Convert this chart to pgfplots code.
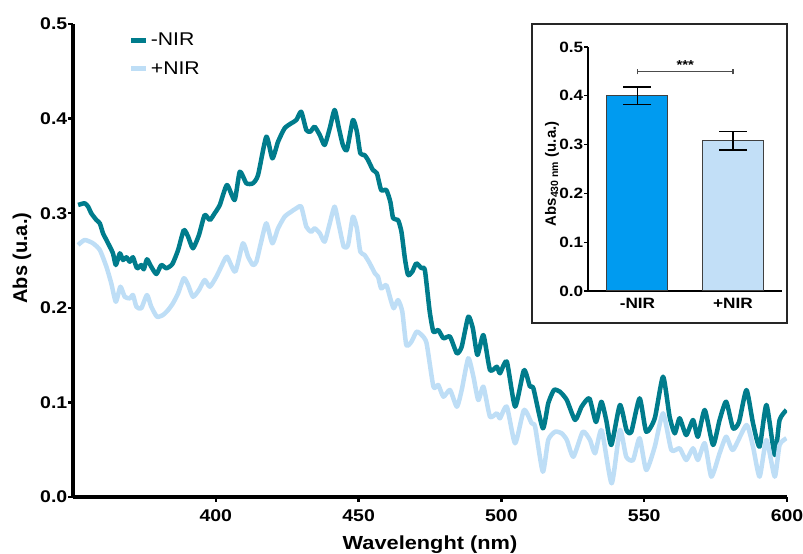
\documentclass[border=0pt]{standalone}
\usepackage{fontspec}
\setmainfont{Liberation Sans}[FakeStretch=1.15]
\newfontfamily\plainsans{Liberation Sans}
\usepackage{pgfplots}
\pgfplotsset{compat=1.18}
\definecolor{darkteal}{RGB}{0,124,140}
\definecolor{lightblue}{RGB}{190,222,246}
\definecolor{barblue}{RGB}{0,155,240}
\definecolor{barlight}{RGB}{194,223,247}
\begin{document}
\begin{tikzpicture}
\useasboundingbox (0,0) rectangle (803bp,554bp);
\begin{axis}[
  at={(73bp,57bp)}, anchor=south west,
  scale only axis, width=714bp, height=473bp,
  xmin=350, xmax=600, ymin=0, ymax=0.5,
  axis lines=left,
  axis line style={-, line width=3bp, black},
  xtick={400,450,500,550,600},
  ytick={0,0.1,0.2,0.3,0.4,0.5},
  tick align=outside,
  major tick length=5bp,
  tick style={line width=2.5bp, black},
  y tick label style={/pgf/number format/fixed, /pgf/number format/fixed zerofill, /pgf/number format/precision=1, inner xsep=0.5bp},
  x tick label style={/pgf/number format/set thousands separator={}, yshift=-4bp},
  ticklabel style={font=\bfseries\fontsize{17}{17}\selectfont},
  /pgf/number format/assume math mode=true,
  xlabel={Wavelenght (nm)},
  ylabel={Abs (u.a.)},
  xlabel style={at={(axis description cs:0.5,-0.112)}, anchor=base, font=\bfseries\fontsize{19}{19}\selectfont},
  ylabel style={at={(axis description cs:-0.0714,0.505)}, anchor=center, font=\plainsans\bfseries\fontsize{20}{20}\selectfont},
  legend style={at={(axis description cs:0.078,0.985)}, anchor=north west, draw=none, fill=none, font=\fontsize{18.5}{18.5}\selectfont, row sep=10bp, inner sep=0pt},
  legend cell align=left,
  legend image code/.code={\draw[#1, line width=5bp] (0bp,0bp) -- (15bp,0bp);},
]
\addplot[darkteal, line width=4.5bp, smooth, tension=0.35, line join=round] coordinates {
(351.8,0.3087) (354.1,0.3105) (355.3,0.3069) (356.4,0.2999) (358.2,0.2928) (359.4,0.2893)
(360.5,0.2788) (361.7,0.2717) (362.9,0.2646) (364.0,0.2576) (365.0,0.2452) (366.4,0.2576)
(367.5,0.2505) (368.7,0.2534) (369.9,0.2487) (371.0,0.2534) (372.4,0.2418) (373.9,0.2452)
(374.8,0.2407) (375.9,0.2513) (377.4,0.2434) (379.2,0.2357) (380.9,0.2452) (382.7,0.2418)
(384.8,0.2463) (386.8,0.2611) (388.8,0.2822) (390.3,0.2752) (392.0,0.2629) (394.1,0.2770)
(396.1,0.2981) (397.9,0.2928) (399.6,0.2999) (401.4,0.3087) (403.9,0.3298) (406.6,0.3140)
(408.4,0.3439) (410.7,0.3316) (413.0,0.3316) (414.8,0.3404) (417.7,0.3809) (419.8,0.3580)
(421.8,0.3756) (424.1,0.3898) (426.4,0.3950) (428.2,0.3985) (429.9,0.4073) (431.7,0.3879)
(433.1,0.3862) (434.6,0.3914) (436.4,0.3827) (438.1,0.3721) (439.9,0.3898) (441.6,0.4091)
(443.1,0.3898) (444.5,0.3721) (445.9,0.3668) (448.0,0.3985) (449.4,0.3862) (450.6,0.3633)
(452.1,0.3615) (453.3,0.3562) (455.0,0.3457) (456.4,0.3422) (457.9,0.3245) (459.7,0.3245)
(461.1,0.3122) (462.1,0.2946) (463.8,0.2928) (465.0,0.2804) (466.2,0.2523) (467.3,0.2347)
(468.8,0.2382) (470.2,0.2470) (472.0,0.2418) (473.2,0.2400) (474.9,0.1959) (476.2,0.1747)
(477.9,0.1765) (479.7,0.1678) (482.0,0.1695) (484.4,0.1519) (486.1,0.1589) (488.4,0.1906)
(490.0,0.1783) (491.6,0.1501) (493.7,0.1712) (496.0,0.1342) (498.4,0.1377) (499.5,0.1308)
(501.9,0.1430) (504.8,0.0955) (507.9,0.1342) (510.0,0.1166) (511.2,0.1149) (514.5,0.0726)
(516.4,0.0990) (518.4,0.1131) (520.5,0.1113) (522.9,0.1025) (525.8,0.0814) (528.1,0.0955)
(530.8,0.1043) (533.1,0.0793) (535.0,0.1007) (536.7,0.0814) (538.5,0.0550) (541.5,0.0973)
(543.8,0.0708) (545.5,0.0690) (548.4,0.1043) (550.7,0.0690) (553.7,0.0832) (556.6,0.1272)
(558.9,0.0849) (560.7,0.0673) (562.4,0.0832) (564.7,0.0655) (567.1,0.0814) (568.8,0.0637)
(571.2,0.0920) (574.1,0.0550) (576.4,0.0814) (578.7,0.1007) (581.1,0.0726) (583.2,0.0793)
(585.8,0.1131) (588.1,0.0779) (590.4,0.0532) (592.8,0.0973) (595.7,0.0444) (597.4,0.0814)
(599.8,0.0920)
};
\addlegendentry{-NIR}
\addplot[lightblue, line width=4.5bp, smooth, tension=0.35, line join=round] coordinates {
(351.8,0.2664) (354.1,0.2717) (357.0,0.2682) (359.4,0.2611) (361.7,0.2434) (363.4,0.2259)
(365.0,0.2064) (366.6,0.2223) (368.1,0.2117) (369.9,0.2100) (371.0,0.2135) (372.2,0.2012)
(373.9,0.1995) (375.9,0.2135) (377.4,0.2012) (379.4,0.1906) (381.5,0.1924) (383.3,0.1977)
(385.0,0.2048) (386.8,0.2153) (388.8,0.2312) (390.3,0.2241) (392.0,0.2117) (394.1,0.2188)
(396.1,0.2294) (397.9,0.2223) (400.2,0.2329) (401.9,0.2434) (403.9,0.2540) (406.8,0.2382)
(409.5,0.2682) (411.3,0.2540) (413.0,0.2452) (414.2,0.2487) (415.9,0.2699) (417.7,0.2893)
(419.8,0.2682) (421.8,0.2840) (424.1,0.2963) (426.4,0.3016) (428.2,0.3052) (429.9,0.3069)
(431.7,0.2857) (433.4,0.2804) (434.6,0.2840) (436.4,0.2788) (438.1,0.2699) (439.9,0.2893)
(441.6,0.3069) (443.1,0.2875) (444.8,0.2646) (446.3,0.2664) (448.0,0.2963) (449.4,0.2840)
(450.6,0.2593) (452.1,0.2558) (453.9,0.2470) (455.7,0.2365) (456.8,0.2329) (457.9,0.2206)
(459.7,0.2241) (461.1,0.2100) (462.3,0.1995) (463.8,0.2082) (465.3,0.1959) (466.7,0.1607)
(468.5,0.1642) (470.3,0.1747) (472.1,0.1712) (473.8,0.1625) (476.2,0.1166) (477.9,0.1184)
(479.7,0.1060) (482.0,0.1131) (484.4,0.0955) (486.1,0.1131) (488.4,0.1466) (490.2,0.1272)
(491.9,0.1025) (493.7,0.1166) (496.0,0.0849) (498.4,0.0885) (499.5,0.0832) (501.9,0.0955)
(504.8,0.0568) (507.9,0.0920) (510.6,0.0779) (511.8,0.0743) (514.5,0.0267) (516.4,0.0603)
(518.8,0.0690) (521.1,0.0673) (522.9,0.0603) (525.2,0.0426) (528.5,0.0690) (531.0,0.0603)
(532.8,0.0462) (535.1,0.0708) (538.6,0.0145) (541.5,0.0708) (543.7,0.0426) (546.1,0.0391)
(548.4,0.0621) (550.7,0.0285) (553.7,0.0532) (556.6,0.0885) (559.5,0.0497) (562.4,0.0515)
(564.7,0.0391) (567.1,0.0515) (568.8,0.0391) (571.2,0.0568) (573.5,0.0215) (576.4,0.0462)
(578.7,0.0637) (581.1,0.0497) (585.8,0.0761) (588.1,0.0532) (590.4,0.0215) (592.8,0.0603)
(595.7,0.0215) (597.4,0.0550) (599.8,0.0621)
};
\addlegendentry{+NIR}
\end{axis}
\fill[white] (532bp,231bp) rectangle (787bp,530bp);
\draw[line width=1.3bp, black!85] (532bp,231bp) rectangle (787bp,530bp);
\begin{axis}[
  at={(588bp,263bp)}, anchor=south west,
  scale only axis, width=194bp, height=244bp,
  xmin=0.482, xmax=2.513, ymin=0, ymax=0.5,
  axis lines=left,
  axis line style={-, line width=1.3bp, black},
  xtick={1,2}, xticklabels={-NIR,+NIR},
  x tick style={draw=none},
  ytick={0,0.1,0.2,0.3,0.4,0.5},
  y tick style={line width=1.3bp, black},
  tick align=outside,
  major tick length=4bp,
  y tick label style={/pgf/number format/fixed, /pgf/number format/fixed zerofill, /pgf/number format/precision=1, inner xsep=0.5bp},
  ticklabel style={font=\bfseries\fontsize{15}{15}\selectfont},
  /pgf/number format/assume math mode=true,
  ylabel={Abs\textsubscript{430 nm} (u.a.)},
  ylabel style={at={(axis description cs:-0.186,0.48)}, anchor=center, font=\plainsans\bfseries\fontsize{15}{15}\selectfont},
]
\addplot[ybar, bar width=61bp, bar shift=0pt, fill=barblue, draw=black!75, line width=1bp,
  error bars/.cd, y dir=both, y explicit,
  error bar style={line width=1.2bp, black},
  error mark options={rotate=90, mark size=14bp, line width=1.2bp, black}]
  coordinates {(1,0.400) +- (0,0.018)};
\addplot[ybar, bar width=61bp, bar shift=0pt, fill=barlight, draw=black!75, line width=1bp,
  error bars/.cd, y dir=both, y explicit,
  error bar style={line width=1.2bp, black},
  error mark options={rotate=90, mark size=14bp, line width=1.2bp, black}]
  coordinates {(2,0.308) +- (0,0.019)};
\draw[black!70, line width=1.1bp] (axis cs:1,0.449) -- (axis cs:2,0.449);
\draw[black!70, line width=1.1bp] (axis cs:1,0.444) -- (axis cs:1,0.454);
\draw[black!70, line width=1.1bp] (axis cs:2,0.444) -- (axis cs:2,0.454);
\node[font=\bfseries\fontsize{13}{13}\selectfont, anchor=south, inner sep=1bp] at (axis cs:1.5,0.452) {***};
\end{axis}
\end{tikzpicture}
\end{document}
